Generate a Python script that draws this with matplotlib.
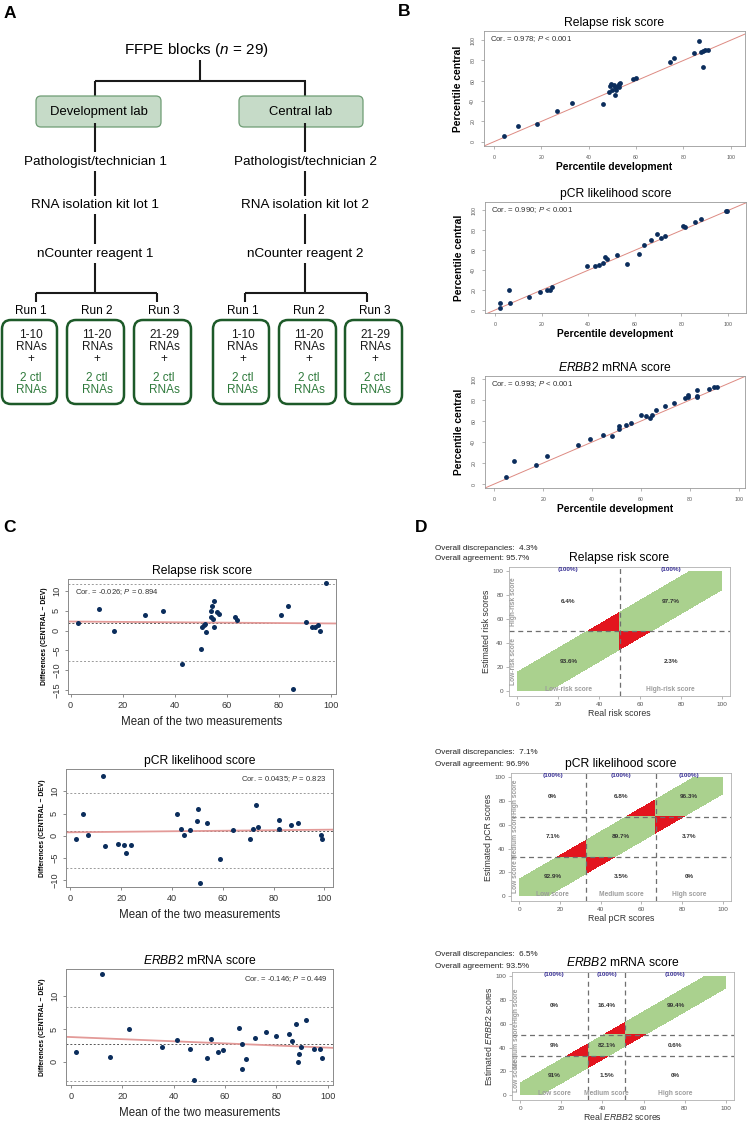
import numpy as np
import matplotlib
matplotlib.use('Agg')
import matplotlib.pyplot as plt
from matplotlib.patches import FancyBboxPatch

plt.rcParams['font.family'] = ['Liberation Sans', 'DejaVu Sans']
plt.rcParams['mathtext.fontset'] = 'custom'
plt.rcParams['mathtext.rm'] = 'Liberation Sans'
plt.rcParams['mathtext.it'] = 'Liberation Sans:italic'
plt.rcParams['mathtext.bf'] = 'Liberation Sans:bold'

W, H = 752, 1123

# ---------------- data ----------------
# A: study design
lab_names = ['Development lab', 'Central lab']
steps_dev = ['Pathologist/technician 1', 'RNA isolation kit lot 1', 'nCounter reagent 1']
steps_cen = ['Pathologist/technician 2', 'RNA isolation kit lot 2', 'nCounter reagent 2']
run_names = ['Run 1', 'Run 2', 'Run 3']
rna_ranges = ['1-10', '11-20', '21-29']

# B: percentile development vs central
rel_dev = [4.2, 10.3, 18.0, 26.7, 32.9, 46.1, 48.5, 49.2, 49.4, 49.9, 50.6, 51.3, 51.0, 51.7, 52.2,
           52.7, 53.2, 52.9, 58.8, 59.8, 74.5, 76.1, 84.4, 86.4, 87.6, 88.3, 89.0, 90.4, 88.3]
rel_cen = [5.9, 15.4, 17.7, 30.5, 37.7, 37.4, 49.2, 54.8, 57.0, 50.8, 55.7, 54.1, 45.9, 50.8, 54.8,
           56.7, 57.4, 53.4, 61.6, 62.3, 78.4, 82.3, 86.9, 98.7, 88.2, 89.2, 90.2, 90.5, 73.4]
pcr_dev = [2.2, 2.2, 5.8, 6.6, 14.5, 19.5, 22.1, 23.6, 24.4, 39.3, 42.8, 44.7, 46.4, 47.0, 48.0,
           52.3, 56.6, 61.7, 64.0, 67.0, 69.4, 71.2, 73.0, 80.5, 81.5, 85.8, 88.2, 99.0, 99.7]
pcr_cen = [7.3, 1.7, 19.7, 7.3, 12.7, 18.0, 20.3, 20.3, 23.0, 44.7, 44.7, 45.0, 47.7, 53.7, 51.3,
           55.3, 46.0, 56.7, 65.0, 70.0, 76.0, 72.0, 74.8, 84.5, 83.0, 88.6, 91.4, 99.7, 99.7]
erb_dev = [4.9, 7.9, 17.1, 21.7, 34.2, 39.0, 44.3, 48.3, 51.0, 51.0, 53.9, 55.9, 60.2, 62.1, 63.7,
           64.5, 66.2, 69.7, 73.4, 77.9, 79.3, 79.3, 82.8, 82.8, 82.8, 88.0, 89.9, 91.0]
erb_cen = [6.3, 21.6, 18.1, 27.0, 36.8, 42.5, 46.7, 45.7, 54.9, 52.4, 55.9, 58.1, 65.7, 65.1, 63.2,
           65.7, 70.5, 74.2, 77.4, 81.9, 85.2, 82.9, 89.7, 84.2, 82.6, 90.3, 92.3, 92.3]
b_cor = ['Cor. = 0.978; $P$ < 0.001', 'Cor. = 0.990; $P$ < 0.001', 'Cor. = 0.993; $P$ < 0.001']

# C: Bland-Altman
rel_mean = [2.8, 11.1, 16.8, 28.6, 35.7, 42.9, 50.1, 50.4, 51.2, 51.5, 52.0, 53.8, 54.2, 53.8, 54.8,
            55.2, 55.3, 56.3, 57.2, 63.1, 63.9, 80.7, 83.7, 85.3, 90.4, 92.9, 94.1, 95.0, 96.0, 98.1]
rel_diff = [2.0, 5.4, 0.0, 3.8, 5.0, -8.4, -4.6, 0.8, 1.3, 1.7, -0.4, 5.0, 6.1, 3.4, 2.9,
            7.5, 0.8, 4.7, 4.3, 3.3, 2.75, 3.8, 6.25, -14.8, 2.1, 0.8, 0.8, 1.5, 0.0, 11.9]
pcr_mean = [2.1, 4.8, 6.9, 12.7, 13.5, 18.7, 21.2, 22.0, 23.9, 41.9, 43.6, 44.6, 47.0, 49.7, 50.2,
            51.2, 53.7, 59.1, 64.2, 70.9, 72.0, 72.9, 73.8, 82.3, 82.3, 87.0, 89.8, 98.7, 99.2]
pcr_diff = [-0.8, 4.8, 0.2, 13.5, -2.2, -1.8, -2.0, -3.9, -2.0, 5.0, 1.5, 0.15, 1.4, 3.3, 6.1,
            -10.7, 2.8, -5.2, 1.4, -0.7, 1.5, 6.9, 2.0, 3.6, 1.6, 2.5, 2.8, 0.2, -0.7]
erb_mean = [1.9, 12.0, 15.3, 22.6, 35.3, 41.1, 46.2, 48.1, 53.0, 54.6, 57.2, 59.1, 65.6, 66.4, 66.4,
            68.0, 71.7, 75.9, 79.8, 85.0, 86.2, 87.6, 88.2, 88.9, 89.4, 91.6, 94.8, 97.0, 97.7]
erb_diff = [1.5, 13.3, 0.76, 5.0, 2.3, 3.3, 2.0, -2.8, 0.66, 3.5, 1.5, 1.8, 5.1, 2.7, -1.07,
            0.5, 3.7, 4.6, 3.9, 4.2, 3.2, 5.8, -0.05, 1.2, 2.3, 6.4, 2.0, 1.9, 0.6]
rel_loa = [11.8, 1.9, -7.7]
pcr_loa = [9.5, 1.06, -7.3]
erb_loa = [8.4, 2.7, -2.9]
c_cor = ['Cor. = -0.026; $P$ = 0.894', 'Cor. = 0.0435; $P$ = 0.823', 'Cor. = -0.146; $P$ = 0.449']

# D: concordance of risk categories
rel_cuts = [50]
pcr_cuts = [33, 67]
erb_cuts = [33, 51]
band_halfwidth = [16, 14.5, 10.5]
rel_cells = [['6.4%', '97.7%'], ['93.6%', '2.3%']]
pcr_cells = [['0%', '6.8%', '96.3%'], ['7.1%', '89.7%', '3.7%'], ['92.9%', '3.5%', '0%']]
erb_cells = [['0%', '16.4%', '99.4%'], ['9%', '82.1%', '0.6%'], ['91%', '1.5%', '0%']]
rel_groups = ['Low-risk score', 'High-risk score']
score_groups = ['Low score', 'Medium score', 'High score']
discrepancy = ['4.3%', '7.1%', '6.5%']
agreement = ['95.7%', '96.9%', '93.5%']


def px_rect(l, t, r, b):
    return [l / W, 1 - b / H, (r - l) / W, (b - t) / H]


fig = plt.figure(figsize=(W / 100, H / 100), dpi=100)

# overlay in pixel coordinates for panel A and letters
ax0 = fig.add_axes([0, 0, 1, 1])
ax0.set_xlim(0, W)
ax0.set_ylim(H, 0)
ax0.axis('off')

for letter, (lx, ly) in zip('ABCD', [(10, 13), (404, 12), (9, 528), (421, 527)]):
    ax0.text(lx, ly, letter, fontsize=12.5, fontweight='bold', ha='center', va='center')

# ---------------- panel A ----------------
lk = dict(color='#1a1a1a', lw=1.5, solid_capstyle='butt')
ax0.text(196, 50, 'FFPE blocks ($n$ = 29)', fontsize=11, ha='center', va='center')
ax0.plot([200, 200], [60, 81], **lk)
ax0.plot([95, 306], [81, 81], **lk)

trunk_x = [95, 305]
box_x = [(36, 161), (239, 363)]
for i, (name, steps) in enumerate(zip(lab_names, [steps_dev, steps_cen])):
    tx = trunk_x[i]
    ax0.plot([tx, tx], [81, 97], **lk)
    x0, x1 = box_x[i]
    ax0.add_patch(FancyBboxPatch((x0, 96), x1 - x0, 31, boxstyle='round,pad=0,rounding_size=5',
                                 fc='#c6dbc8', ec='#6e9c74', lw=0.9, zorder=2))
    ax0.text((x0 + x1) / 2, 112, name, fontsize=9.4, ha='center', va='center', zorder=3)
    for y0, y1 in [(123, 152), (171, 196), (214, 244), (263, 293)]:
        ax0.plot([tx, tx], [y0, y1], zorder=4, **lk)
    for s, sy in zip(steps, [162, 205, 254]):
        ax0.text(tx, sy, s, fontsize=9.7, ha='center', va='center')

run_boxes = [[(2, 57), (67, 124), (134, 191)], [(213, 269), (279, 336), (345, 402)]]
brackets = [(36, 157), (245, 367)]
for g in range(2):
    bx0, bx1 = brackets[g]
    ax0.plot([bx0, bx1], [293, 293], **lk)
    ax0.plot([bx0, bx0], [293, 302], **lk)
    ax0.plot([bx1, bx1], [293, 302], **lk)
    for (x0, x1), rn, rr in zip(run_boxes[g], run_names, rna_ranges):
        cx = (x0 + x1) / 2 + 1.5
        ax0.text(cx, 311, rn, fontsize=8.5, ha='center', va='center')
        ax0.add_patch(FancyBboxPatch((x0, 320), x1 - x0, 84, boxstyle='round,pad=0,rounding_size=9',
                                     fc='white', ec='#1d5a29', lw=1.8))
        for txt, ty, col in [(rr, 335, '#1a1a1a'), ('RNAs', 347, '#1a1a1a'), ('+', 359, '#1a1a1a'),
                             ('2 ctl', 378, '#2f7a3c'), ('RNAs', 390, '#2f7a3c')]:
            ax0.text(cx, ty, txt, fontsize=8.5, ha='center', va='center', color=col)


# ---------------- panel B ----------------
def corr_plot(rect, dev, cen, title, cor_txt, xlim, ylim):
    ax = fig.add_axes(px_rect(*rect))
    ax.axline((0, 0), slope=1, color='#dd8a82', lw=0.7, zorder=1)
    ax.scatter(dev, cen, s=12, color='#0b2d5c', lw=0, zorder=3)
    ax.set_xlim(*xlim)
    ax.set_ylim(*ylim)
    ax.set_xticks(range(0, 101, 20))
    ax.set_yticks(range(0, 101, 20))
    ax.tick_params(length=2.2, width=0.5, color='#999999', labelsize=3.8, labelcolor='#555555', pad=4)
    plt.setp(ax.get_yticklabels(), rotation=90, va='center')
    for s in ax.spines.values():
        s.set_color('#9a9a9a')
        s.set_linewidth(0.6)
    ax.set_title(title, fontsize=8.75, pad=3.5)
    ax.set_xlabel('Percentile development', fontsize=7.4, fontweight='bold', labelpad=1.5)
    ax.set_ylabel('Percentile central', fontsize=7.4, fontweight='bold', labelpad=5)
    ax.text(0.023, 0.93, cor_txt, transform=ax.transAxes, fontsize=5.6, color='#333333', va='center')
    return ax


corr_plot((484, 31, 745, 146), rel_dev, rel_cen, 'Relapse risk score', b_cor[0], (-4.2, 106), (-4.2, 109))
corr_plot((485, 202, 746, 313), pcr_dev, pcr_cen, 'pCR likelihood score', b_cor[1], (-4.3, 107.7), (-3, 108.5))
corr_plot((485, 376, 745, 488), erb_dev, erb_cen, r'$\mathit{ERBB2}$ mRNA score', b_cor[2], (-3.8, 102.6), (-3.8, 103))


# ---------------- panel C ----------------
def ba_plot(rect, means, diffs, title, cor_txt, cor_pos, loa, xlim, ylim, yticks):
    ax = fig.add_axes(px_rect(*rect))
    for v, c in zip(loa, ['#9a9a9a', '#555555', '#9a9a9a']):
        ax.axhline(v, color=c, ls=(0, (2, 2)), lw=0.7, zorder=1)
    slope, icpt = np.polyfit(means, diffs, 1)
    xx = np.array(xlim)
    ax.plot(xx, icpt + slope * xx, color='#e39a98', lw=1.3, zorder=2)
    ax.scatter(means, diffs, s=13, color='#0b2d5c', lw=0, zorder=3)
    ax.set_xlim(*xlim)
    ax.set_ylim(*ylim)
    ax.set_xticks(range(0, 101, 20))
    ax.set_yticks(yticks)
    ax.set_yticklabels([str(t).replace('-', '\u2212') for t in yticks])
    ax.tick_params(length=2.5, width=0.6, color='#777777', labelsize=6.6, labelcolor='#333333', pad=2.5)
    plt.setp(ax.get_yticklabels(), rotation=90, va='center')
    for s in ax.spines.values():
        s.set_color('#8a8a8a')
        s.set_linewidth(0.7)
    ax.set_title(title, fontsize=8.75, pad=3.5)
    ax.set_xlabel('Mean of the two measurements', fontsize=8.3, labelpad=4.5, color='#222222')
    ax.set_ylabel('Differences (CENTRAL \u2212 DEV)', fontsize=4.9, fontweight='bold', labelpad=3)
    ax.text(cor_pos[0], cor_pos[1], cor_txt, transform=ax.transAxes, fontsize=5.5, color='#333333',
            va='center', ha=cor_pos[2])
    return ax


ba_plot((68, 579, 336, 694), rel_mean, rel_diff, 'Relapse risk score', c_cor[0], (0.026, 0.887, 'left'),
        rel_loa, (-1, 102), (-16, 13), [-15, -10, -5, 0, 5, 10])
ba_plot((66, 769, 333, 887), pcr_mean, pcr_diff, 'pCR likelihood score', c_cor[1], (0.974, 0.915, 'right'),
        pcr_loa, (-1.7, 103.4), (-11.5, 15), [-10, -5, 0, 5, 10])
ba_plot((66, 969, 333, 1085), erb_mean, erb_diff, r'$\mathit{ERBB2}$ mRNA score', c_cor[2], (0.98, 0.914, 'right'),
        erb_loa, (-1.9, 102), (-3.5, 14.1), [0, 5, 10])


# ---------------- panel D ----------------
def conc_plot(rect, cuts, half_w, cells, col_names, title, xlab, ylab, xpad):
    ax = fig.add_axes(px_rect(*rect))
    g = np.linspace(0, 100, 601)
    gx, gy = np.meshgrid(g, g)
    inside = np.abs(gy - gx) <= half_w
    same = np.digitize(gx, cuts) == np.digitize(gy, cuts)
    img = np.zeros(gx.shape + (4,))
    img[inside & same] = matplotlib.colors.to_rgba('#aad18e')
    img[inside & ~same] = matplotlib.colors.to_rgba('#e3151e')
    ax.imshow(img, extent=[0, 100, 0, 100], origin='lower', aspect='auto', interpolation='nearest', zorder=1)
    for c in cuts:
        ax.axvline(c, color='#6f6f6f', ls=(0, (4, 3)), lw=0.9, zorder=2)
        ax.axhline(c, color='#6f6f6f', ls=(0, (4, 3)), lw=0.9, zorder=2)
    bounds = [0] + list(cuts) + [100]
    centers = [(a + b) / 2 for a, b in zip(bounds[:-1], bounds[1:])]
    for i, row in enumerate(cells):
        cy = centers[::-1][i]
        for cx, txt in zip(centers, row):
            ax.text(cx, cy, txt, fontsize=4.6, fontweight='bold', color='#333333', ha='center', va='center', zorder=4)
    for cx, name in zip(centers, col_names):
        ax.text(cx, 101.8, '(100%)', fontsize=4.6, fontweight='bold', color='#3b3397', ha='center', va='center')
        ax.text(cx, 1.8, name, fontsize=4.8, fontweight='bold', color='#9c9c9c', ha='center', va='center', zorder=4)
    for cy, name in zip(centers, col_names):
        ax.text(-1.6, cy, name, fontsize=4.8, fontweight='bold', color='#9c9c9c', ha='center', va='center',
                rotation=90, zorder=4)
    ax.set_xlim(-4, 104)
    ax.set_ylim(-4, 103.6)
    ax.set_xticks(range(0, 101, 20))
    ax.set_yticks(range(0, 101, 20))
    ax.tick_params(length=2, width=0.5, color='#999999', labelsize=4.6, labelcolor='#555555', pad=2)
    for s in ax.spines.values():
        s.set_color('#b0b0b0')
        s.set_linewidth(0.6)
    ax.set_title(title, fontsize=8.75, pad=4)
    ax.set_xlabel(xlab, fontsize=6.3, labelpad=xpad, color='#333333')
    ax.set_ylabel(ylab, fontsize=6.3, labelpad=1, color='#333333')
    return ax


d_rects = [(509, 567, 730, 696), (511, 773, 731, 901), (512, 972, 734, 1100)]
d_txt_y = [(548, 559), (753, 764), (955, 966)]
conc_plot(d_rects[0], rel_cuts, band_halfwidth[0], rel_cells, rel_groups, 'Relapse risk score',
          'Real risk scores', 'Estimated risk scores', 1.5)
conc_plot(d_rects[1], pcr_cuts, band_halfwidth[1], pcr_cells, score_groups, 'pCR likelihood score',
          'Real pCR scores', 'Estimated pCR scores', 1.5)
conc_plot(d_rects[2], erb_cuts, band_halfwidth[2], erb_cells, score_groups, r'$\mathit{ERBB2}$ mRNA score',
          r'Real $\mathit{ERBB2}$ scores', r'Estimated $\mathit{ERBB2}$ scores', 0)
for (y1, y2), d, a in zip(d_txt_y, discrepancy, agreement):
    ax0.text(435, y1, 'Overall discrepancies:  ' + d, fontsize=5.9, va='center', color='#222222')
    ax0.text(435, y2, 'Overall agreement: ' + a, fontsize=5.9, va='center', color='#222222')

fig.savefig('out.png', dpi=100)
